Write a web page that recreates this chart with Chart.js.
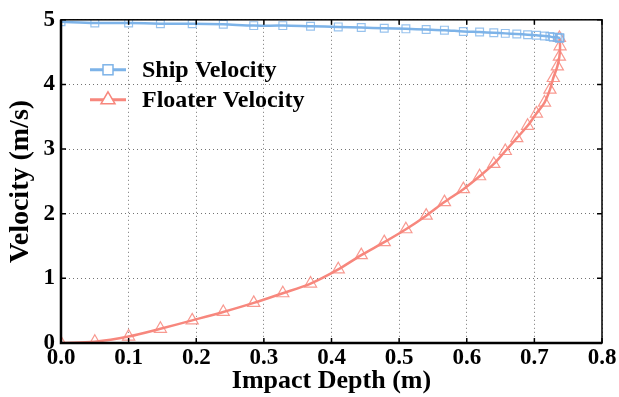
<!DOCTYPE html>
<html>
<head>
<meta charset="utf-8">
<script src="https://cdn.jsdelivr.net/npm/chart.js@4/dist/chart.umd.min.js"></script>
<style>
  html, body { margin: 0; padding: 0; background: #fff; }
  #wrap { width: 619px; height: 397px; }
</style>
</head>
<body>
<div id="wrap"><canvas id="mycanvas" width="619" height="397"></canvas></div>
<script>
// impact depth (m) at each sample
var depth = [0, 0.05, 0.1, 0.147, 0.194, 0.24, 0.285, 0.328, 0.369, 0.41, 0.444, 0.478, 0.51, 0.54,
  0.567, 0.595, 0.619, 0.64, 0.657, 0.674, 0.69, 0.703, 0.715, 0.723, 0.728, 0.734, 0.737, 0.738, 0.737];
var shipVel = [4.97, 4.95, 4.95, 4.94, 4.94, 4.93, 4.91, 4.91, 4.90, 4.89, 4.88, 4.87, 4.86, 4.85,
  4.84, 4.82, 4.81, 4.80, 4.79, 4.78, 4.77, 4.76, 4.75, 4.74, 4.73, 4.73, 4.72, 4.72, 4.72];
var floaterVel = [0, 0.02, 0.1, 0.22, 0.35, 0.48, 0.62, 0.77, 0.92, 1.14, 1.36, 1.56, 1.76, 1.97,
  2.18, 2.38, 2.58, 2.77, 2.97, 3.17, 3.36, 3.55, 3.72, 3.92, 4.10, 4.28, 4.43, 4.59, 4.72];
var xTicks = [0, 0.1, 0.2, 0.3, 0.4, 0.5, 0.6, 0.7, 0.8];
var yTicks = [0, 1, 2, 3, 4, 5];
var seriesNames = ['Ship Velocity', 'Floater Velocity'];

var shipColor = '#7db3e8';
var floaterColor = '#f7877d';
var font = 'Liberation Serif, Times New Roman, serif';

function pts(xs, ys) {
  var out = [];
  for (var i in xs) out.push({x: xs[i], y: ys[i]});
  return out;
}

// frame, inside ticks and legend
var framePlugin = {
  id: 'frame',
  afterDraw: function(chart) {
    var ctx = chart.ctx, a = chart.chartArea;
    var xs = chart.scales.x, ys = chart.scales.y;
    ctx.save();
    ctx.strokeStyle = '#000';
    ctx.lineWidth = 1.5;
    ctx.strokeRect(a.left, a.top, a.right - a.left, a.bottom - a.top);
    ctx.lineWidth = 2.5;
    ctx.beginPath();
    ctx.moveTo(a.left, a.top); ctx.lineTo(a.left, a.bottom); ctx.lineTo(a.right, a.bottom);
    ctx.stroke();
    ctx.lineWidth = 1.5;
    ctx.beginPath();
    xTicks.forEach(function(t) {
      var p = xs.getPixelForValue(t);
      ctx.moveTo(p, a.bottom); ctx.lineTo(p, a.bottom - 5);
      ctx.moveTo(p, a.top); ctx.lineTo(p, a.top + 5);
    });
    yTicks.forEach(function(t) {
      var p = ys.getPixelForValue(t);
      ctx.moveTo(a.left, p); ctx.lineTo(a.left + 5, p);
      ctx.moveTo(a.right, p); ctx.lineTo(a.right - 5, p);
    });
    ctx.stroke();

    // legend
    var lx = a.left + 29, ly = a.top + 50;
    chart.data.datasets.forEach(function(ds, i) {
      var y = ly + i * 30;
      ctx.strokeStyle = ds.borderColor;
      ctx.lineWidth = 3;
      ctx.beginPath(); ctx.moveTo(lx, y); ctx.lineTo(lx + 36, y); ctx.stroke();
      ctx.lineWidth = 1.5;
      ctx.fillStyle = '#fff';
      if (i === 0) {
        ctx.fillRect(lx + 13, y - 5, 10, 10);
        ctx.strokeRect(lx + 13, y - 5, 10, 10);
      } else {
        ctx.beginPath();
        ctx.moveTo(lx + 18, y - 8); ctx.lineTo(lx + 25, y + 4); ctx.lineTo(lx + 11, y + 4);
        ctx.closePath(); ctx.fill(); ctx.stroke();
      }
      ctx.fillStyle = '#000';
      ctx.font = 'bold 24px ' + font;
      ctx.textBaseline = 'middle';
      ctx.fillText(ds.label, lx + 52, y + 1);
    });
    ctx.restore();
  }
};

var ctx = document.getElementById('mycanvas');
var chart = new Chart(ctx, {
  type: 'scatter',
  data: {
    datasets: [
      {
        label: seriesNames[0],
        data: pts(depth, shipVel),
        showLine: true,
        borderColor: shipColor,
        backgroundColor: 'rgba(255,255,255,0)',
        borderWidth: 2.5,
        pointStyle: 'rect',
        pointRadius: 5.5,
        pointBorderWidth: 1.2,
        pointBorderColor: 'rgba(125,179,232,0.8)',
        tension: 0.3
      },
      {
        label: seriesNames[1],
        data: pts(depth, floaterVel),
        showLine: true,
        borderColor: floaterColor,
        backgroundColor: 'rgba(255,255,255,0)',
        borderWidth: 2.5,
        pointStyle: 'triangle',
        pointRadius: 7,
        pointBorderWidth: 1.2,
        pointBorderColor: 'rgba(247,135,125,0.85)',
        tension: 0.3
      }
    ]
  },
  options: {
    responsive: false,
    animation: false,
    layout: { padding: { top: 15, right: 17, left: 0, bottom: 0 } },
    plugins: { legend: { display: false }, tooltip: { enabled: false } },
    scales: {
      x: {
        type: 'linear', min: 0, max: 0.8,
        afterBuildTicks: function(s) { s.ticks = xTicks.map(function(v) { return {value: v}; }); },
        afterFit: function(s) { s.height = 54; s.paddingRight = 0; s.paddingLeft = 0; },
        ticks: {
          color: '#000', padding: 1,
          font: { family: font, size: 23, weight: 'bold' },
          callback: function(v) { return v.toFixed(1); }
        },
        grid: { color: 'rgba(0,0,0,0.55)', lineWidth: 1, drawTicks: false },
        border: { display: false, dash: [1, 3] },
        title: {
          display: true, text: 'Impact Depth (m)', color: '#000', padding: { top: 0, bottom: 0 },
          font: { family: font, size: 26, weight: 'bold' }
        }
      },
      y: {
        type: 'linear', min: 0, max: 5,
        afterBuildTicks: function(s) { s.ticks = yTicks.map(function(v) { return {value: v}; }); },
        afterFit: function(s) { s.width = 61; },
        ticks: {
          color: '#000', padding: 6,
          font: { family: font, size: 23, weight: 'bold' }
        },
        grid: { color: 'rgba(0,0,0,0.55)', lineWidth: 1, drawTicks: false },
        border: { display: false, dash: [1, 3] },
        title: {
          display: true, text: 'Velocity (m/s)', color: '#000', padding: { top: 4, bottom: 0 },
          font: { family: font, size: 28, weight: 'bold' }
        }
      }
    }
  },
  plugins: [framePlugin]
});
</script>
</body>
</html>
